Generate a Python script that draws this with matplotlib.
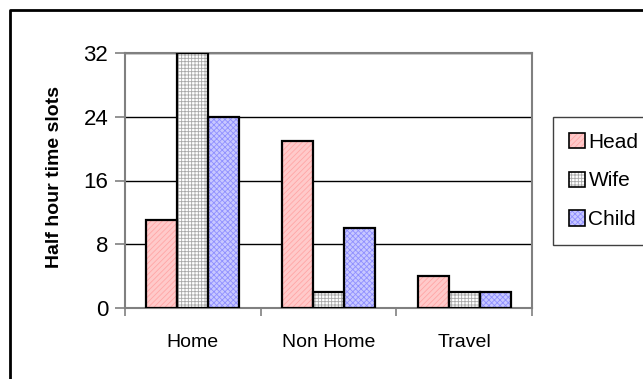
import matplotlib.pyplot as plt
import numpy as np
from matplotlib.lines import Line2D
from matplotlib.patches import Patch

plt.rcParams['font.family'] = ['Liberation Sans', 'DejaVu Sans']
plt.rcParams['hatch.linewidth'] = 0.6

# Datos: media hora por actividad y miembro del hogar
categorias = ['Home', 'Non Home', 'Travel']
head = [11, 21, 4]
wife = [32, 2, 2]
child = [24, 10, 2]
miembros = ['Head', 'Wife', 'Child']
ticks_y = [0, 8, 16, 24, 32]

# relleno, color de la trama, trama
estilos = [('#ffcaca', '#ffa6a6', '//////'),
           ('#ffffff', '#a8a8a8', '+++++'),
           ('#c8c8ff', '#9090ff', 'xxxxxx')]

fig = plt.figure(figsize=(6.43, 3.79), dpi=100)
ax = fig.add_axes([125 / 643, 1 - 308 / 379, 407 / 643, 255 / 379])

x = np.arange(len(categorias))
ancho = 0.228
handles = []
for i, (valores, (relleno, trama_color, trama)) in enumerate(zip([head, wife, child], estilos)):
    pos = x + (i - 1) * ancho
    # primero la trama, luego el borde negro encima
    ax.bar(pos, valores, ancho, facecolor=relleno, edgecolor=trama_color,
           hatch=trama, linewidth=0, zorder=3)
    ax.bar(pos, valores, ancho, fill=False, edgecolor='black', linewidth=1.6, zorder=4)
    handles.append((Patch(facecolor=relleno, edgecolor=trama_color, hatch=trama, linewidth=0),
                    Patch(fill=False, edgecolor='black', linewidth=1.2)))

ax.set_xlim(-0.5, 2.5)
ax.set_ylim(0, 32)
ax.set_yticks(ticks_y)
ax.set_yticklabels([str(t) for t in ticks_y], fontsize=16)
ax.set_xticks(x)
ax.set_xticklabels(categorias, fontsize=14)
ax.set_xticks([-0.5, 0.5, 1.5, 2.5], minor=True)
ax.tick_params(axis='x', which='major', length=0, pad=18.5)
ax.tick_params(axis='x', which='minor', length=6, color='#808080', width=1.2)
ax.tick_params(axis='y', length=7, color='#808080', width=1.2, pad=5)

ax.grid(axis='y', color='black', linewidth=1, zorder=0)
ax.set_axisbelow(True)
for s in ax.spines.values():
    s.set_color('#808080')
    s.set_linewidth(1.5)

fig.text(55 / 643, 1 - 177 / 379, 'Half hour time slots', rotation=90,
         ha='center', va='center', fontsize=14, fontweight='bold')

leg = fig.legend(handles, miembros, loc='upper left', bbox_to_anchor=(553 / 643, 1 - 117 / 379),
                 fontsize=15, frameon=True, fancybox=False, framealpha=1,
                 edgecolor='#404040', borderpad=0.75, labelspacing=0.95,
                 handlelength=0.8, handleheight=0.75, handletextpad=0.15,
                 borderaxespad=0)
leg.get_frame().set_linewidth(1)

# marco exterior del grafico
fig.add_artist(Line2D([10 / 643, 10 / 643, 1.01], [-0.01, 1 - 10 / 379, 1 - 10 / 379],
                      transform=fig.transFigure, color='black', linewidth=2))

plt.savefig('out.png', dpi=100)
